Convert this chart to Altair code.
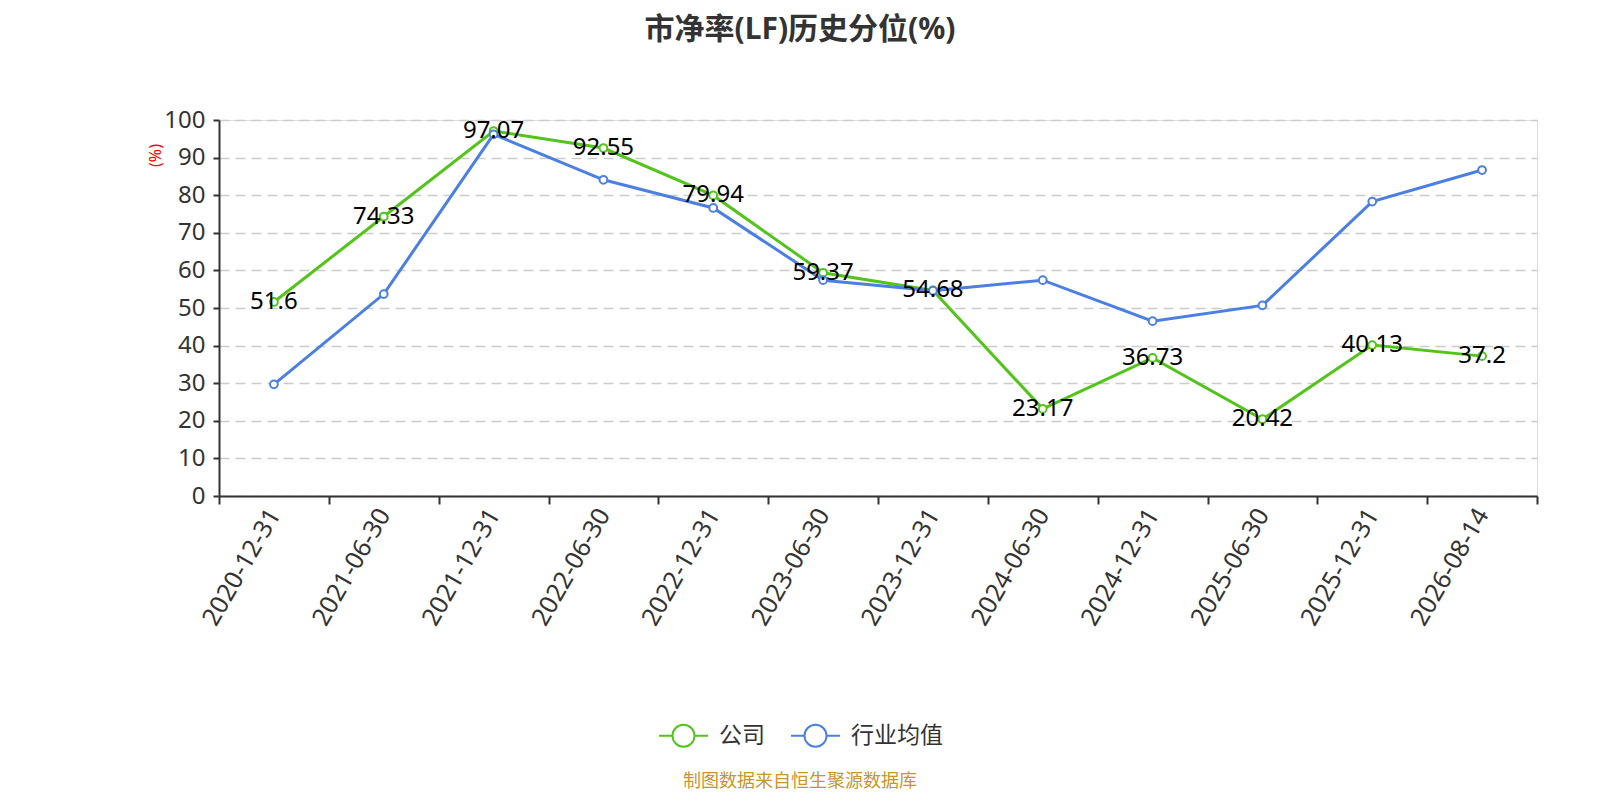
import altair as alt
import pandas as pd

dates = ["2020-12-31", "2021-06-30", "2021-12-31", "2022-06-30", "2022-12-31", "2023-06-30",
         "2023-12-31", "2024-06-30", "2024-12-31", "2025-06-30", "2025-12-31", "2026-08-14"]
company = [51.6, 74.33, 97.07, 92.55, 79.94, 59.37, 54.68, 23.17, 36.73, 20.42, 40.13, 37.2]
industry = [29.7, 53.7, 96.2, 84.1, 76.6, 57.4, 54.6, 57.4, 46.5, 50.7, 78.3, 86.7]
series_names = ["公司", "行业均值"]
series_colors = ["#52c41a", "#4b7fe1"]
title_text = "市净率(LF)历史分位(%)"
source_note = "制图数据来自恒生聚源数据库"

rows = []
for d, v in zip(dates, company):
    rows.append({"date": d, "series": series_names[0], "value": v, "label": f"{v:g}"})
for d, v in zip(dates, industry):
    rows.append({"date": d, "series": series_names[1], "value": v, "label": ""})
df = pd.DataFrame(rows)

FONT = "Noto Sans, Noto Sans CJK SC"
CJK = "Noto Sans CJK SC"
LEGEND_PATH = ("M-1,0L-0.45,0M0.45,0L1,0"
               "M-0.45,0A0.45,0.45 0 1,1 0.45,0A0.45,0.45 0 1,1 -0.45,0Z")

x = alt.X(
    "date:O", sort=dates, bandPosition=0.5,
    scale=alt.Scale(type="band", paddingInner=0, paddingOuter=0),
    axis=alt.Axis(title=None, labelAngle=-60, labelAlign="right", labelBaseline="middle",
                  labelFontSize=25, labelColor="#333", labelFont=FONT, labelPadding=6,
                  tickBand="extent", tickSize=8, tickWidth=2, tickColor="#333",
                  domainColor="#333", domainWidth=2, grid=False),
)
y = alt.Y(
    "value:Q", scale=alt.Scale(domain=[0, 100], nice=False),
    axis=alt.Axis(values=list(range(0, 101, 10)), title="(%)", titleColor="red",
                  titleFontSize=16, titleFontWeight="normal", titleFont=FONT,
                  titleAngle=-90, titleX=-64, titleY=35, titleAlign="center",
                  titleBaseline="middle",
                  labelFontSize=24, labelColor="#333", labelFont=FONT, labelPadding=8,
                  tickSize=6, tickColor="#333", tickWidth=2,
                  domainColor="#333", domainWidth=2,
                  gridDash=[10, 6], gridColor="#cccccc", gridWidth=1.5),
)
color = alt.Color(
    "series:N", sort=series_names,
    scale=alt.Scale(domain=series_names, range=series_colors),
    legend=alt.Legend(title=None, orient="none", legendX=439, legendY=590,
                      direction="horizontal", symbolType=LEGEND_PATH, symbolSize=2400,
                      symbolStrokeWidth=2, symbolFillColor="white",
                      labelFontSize=23, labelColor="#333", labelFont=CJK,
                      labelOffset=10, columnPadding=22),
)

base = alt.Chart(df)
lines = base.mark_line(strokeWidth=3).encode(x=x, y=y, color=color,
                                              order=alt.Order("date:O"))
points = base.mark_point(filled=True, fill="white", size=60, strokeWidth=2, opacity=1).encode(
    x=x, y=y, stroke=alt.Stroke("series:N", scale=alt.Scale(domain=series_names, range=series_colors), legend=None)
)
labels = base.transform_filter(alt.datum.label != "").mark_text(
    fontSize=24, color="black", font=FONT, align="center", baseline="middle"
).encode(x=x, y=y, text="label:N")

note_df = pd.DataFrame({"note": [source_note]})
note = alt.Chart(note_df).mark_text(
    fontSize=18, color="#c8952f", font=CJK, align="center", baseline="middle"
).encode(x=alt.value(581), y=alt.value(662), text="note:N")

chart = alt.layer(lines, points, labels, note).properties(
    width=1318, height=376,
    padding={"left": 211, "top": 112, "right": 45, "bottom": 296},
    autosize=alt.AutoSizeParams(type="none"),
    title=alt.Title(title_text, fontSize=30, fontWeight="bold", color="#333", font=FONT,
                    anchor="middle", dx=-78, offset=63),
).configure_view(stroke=None).configure(background="white")

chart.save("out.html", embed_options={"renderer": "svg", "actions": False})
